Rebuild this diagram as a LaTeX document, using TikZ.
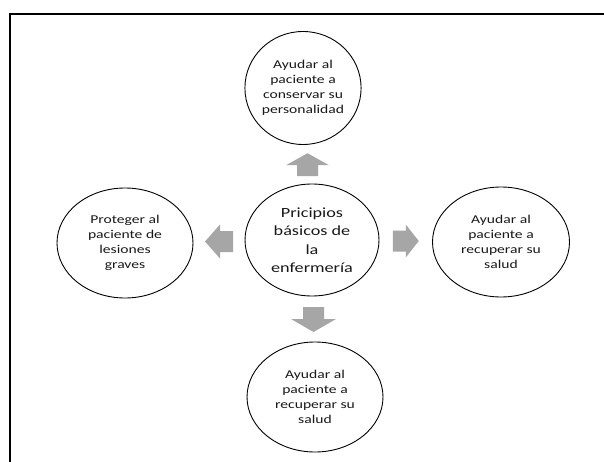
\documentclass[tikz,border=0pt]{standalone}
\usepackage{fontspec}
\setmainfont{Carlito}
\newfontfamily\widesans[FakeStretch=1.3]{Carlito}
\usetikzlibrary{shapes.geometric,calc}
\begin{document}
\begin{tikzpicture}[x=1pt,y=-1pt,
  bubble/.style={draw=black,line width=0.9pt,ellipse,inner sep=0pt,
    align=center,text=black!90,font=\widesans\fontsize{12}{14.8}\selectfont},
  hub/.style={bubble,font=\widesans\fontsize{14}{18.5}\selectfont},
  blockarrow/.style={fill=black!35,draw=none}]
\useasboundingbox (0,0) rectangle (604,462);
\fill[white] (0,0) rectangle (604,462);
% frame lines
\draw[line width=1.5pt] (604,14) -- (10,14) -- (10,462);

% ellipses
\path (312,240) node[hub,minimum width=134pt,minimum height=112pt] (hub) {Pricipios\\básicos de\\la\\enfermería};
\path (303,88) node[bubble,minimum width=116pt,minimum height=113pt] (top) {Ayudar al\\paciente a\\conservar su\\personalidad};
\path (125,243) node[bubble,minimum width=136pt,minimum height=110pt] (left) {Proteger al\\paciente de\\lesiones\\graves};
\path (501,242) node[bubble,minimum width=137pt,minimum height=110pt] (right) {Ayudar al\\paciente a\\recuperar su\\salud};
\path (315,397) node[bubble,minimum width=136pt,minimum height=110pt] (bottom) {Ayudar al\\paciente a\\recuperar su\\salud};

% block arrows between hub and outer ellipses
\coordinate (aup) at ($(hub.north)!0.5!(top.south)$);
\coordinate (adown) at ($(hub.south)!0.5!(bottom.north)$);
\coordinate (aleft) at ($(hub.west)!0.5!(left.east)$);
\coordinate (aright) at ($(hub.east)!0.5!(right.west)$);

\fill[blockarrow] (aup) ++(-10.5,12) -- ++(0,-11) -- ++(-11,0) -- ++(21.5,-12)
  -- ++(21.5,12) -- ++(-11,0) -- ++(0,11) -- cycle;
\fill[blockarrow] (adown) ++(-10.5,-12) -- ++(0,12) -- ++(-12,0) -- ++(22.5,13)
  -- ++(22.5,-13) -- ++(-12,0) -- ++(0,-12) -- cycle;
\fill[blockarrow] (aleft) ++(14,-10.5) -- ++(-13,0) -- ++(0,-6.5) -- ++(-15,17)
  -- ++(15,17) -- ++(0,-6.5) -- ++(13,0) -- cycle;
\fill[blockarrow] (aright) ++(-13,-10.5) -- ++(13,0) -- ++(0,-6) -- ++(13,16.5)
  -- ++(-13,16.5) -- ++(0,-6) -- ++(-13,0) -- cycle;
\end{tikzpicture}
\end{document}
